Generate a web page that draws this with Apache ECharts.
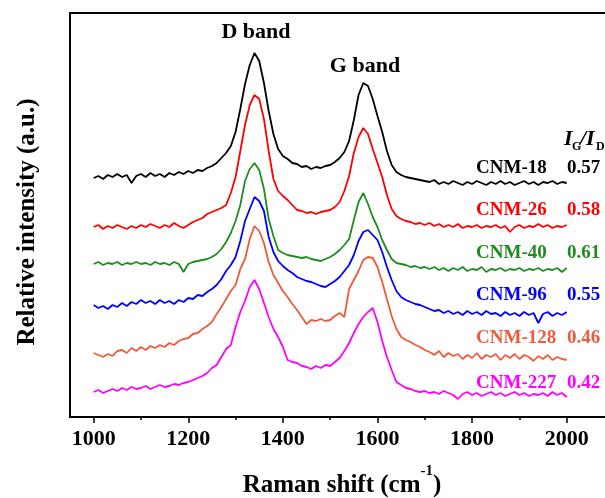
<!DOCTYPE html>
<html>
<head>
<meta charset="utf-8">
<script src="https://cdn.jsdelivr.net/npm/echarts@6/dist/echarts.min.js"></script>
<style>
  html, body { margin: 0; padding: 0; background: #fff; }
  #chart { width: 605px; height: 498px; }
</style>
</head>
<body>
<div id="chart"></div>
<script>
// Raman shift (cm-1), one point every 10 cm-1
var shifts = [1000,1010,1020,1030,1040,1050,1060,1070,1080,1090,
  1100,1110,1120,1130,1140,1150,1160,1170,1180,1190,
  1200,1210,1220,1230,1240,1250,1260,1270,1280,1290,
  1300,1310,1320,1330,1340,1350,1360,1370,1380,1390,
  1400,1410,1420,1430,1440,1450,1460,1470,1480,1490,
  1500,1510,1520,1530,1540,1550,1560,1570,1580,1590,
  1600,1610,1620,1630,1640,1650,1660,1670,1680,1690,
  1700,1710,1720,1730,1740,1750,1760,1770,1780,1790,
  1800,1810,1820,1830,1840,1850,1860,1870,1880,1890,
  1900,1910,1920,1930,1940,1950,1960,1970,1980,1990,2000];

// stacked (offset) intensities
var cnm18 = [239,241,238,242,240,243,240,242,234,241,
  243,240,244,241,243,240,244,242,245,243,
  246,244,247,246,249,251,254,259,264,271,
  285,308,333,352,364,356,334,306,283,268,
  261,258,254,253,250,251,248,250,249,251,
  252,255,259,265,276,297,322,334,331,318,
  301,285,266,252,245,242,240,239,238,237,
  236,235,237,233,235,233,236,234,232,235,
  233,236,234,232,235,233,236,233,235,232,
  234,236,233,235,232,235,234,236,233,235,234];
var cnm26 = [190,192,188,191,189,192,190,188,191,189,
  192,190,193,191,189,192,190,194,191,189,
  192,195,197,199,203,205,207,209,212,224,
  240,266,292,312,322,318,298,266,238,226,
  221,217,212,207,206,204,205,203,205,206,
  207,210,215,226,241,264,280,289,283,268,
  254,240,222,208,201,198,196,195,193,194,
  192,194,191,193,190,192,190,193,189,191,
  190,192,189,191,190,192,189,191,185,190,
  192,189,191,190,193,190,192,189,191,190,192];
var cnm40 = [153,155,152,154,153,155,152,154,153,155,
  153,154,152,155,153,154,152,155,153,145,
  153,155,156,157,158,160,163,168,175,184,
  196,212,236,248,254,247,228,198,181,167,
  164,162,161,160,159,160,158,157,156,158,
  160,163,167,172,178,197,215,224,213,200,
  190,177,167,158,154,153,152,150,151,149,
  150,148,150,147,149,146,149,147,150,146,
  148,147,150,145,148,147,149,146,148,147,
  149,146,148,147,149,146,148,147,149,145,149];
var cnm96 = [112,109,111,108,112,110,114,111,115,113,
  117,114,116,113,117,114,116,113,117,115,
  119,118,122,121,125,128,132,138,146,152,
  160,176,196,208,220,216,206,180,165,156,
  151,147,144,140,138,136,135,133,131,130,
  133,136,140,146,152,162,176,185,187,182,
  177,165,150,137,126,120,117,115,113,112,
  110,108,106,107,104,106,103,105,102,106,
  103,105,102,106,103,104,101,105,102,104,
  101,105,102,104,94,103,105,101,104,102,105];
var cnm128 = [64,62,60,63,61,66,67,64,69,66,
  70,67,71,69,72,70,74,72,76,78,
  79,83,84,88,91,95,103,110,118,126,
  132,148,158,178,191,186,174,155,142,134,
  126,120,113,107,100,93,97,96,98,96,
  97,101,104,100,128,137,146,157,160,159,
  150,135,118,101,88,80,77,75,72,70,
  67,65,62,66,60,64,61,63,58,62,
  59,64,58,62,60,63,57,62,59,63,
  58,62,60,56,61,58,62,57,60,58,57];
var cnm227 = [25,27,24,26,28,26,29,27,30,28,
  29,31,28,30,32,30,31,33,32,34,
  35,37,39,41,44,49,52,60,68,72,
  90,105,116,130,137,128,114,100,88,80,
  70,57,55,54,51,50,48,51,49,52,
  51,55,59,66,74,84,93,100,105,109,
  95,76,60,47,35,32,29,28,26,25,
  26,24,25,23,26,24,22,18,23,25,
  22,24,21,23,25,22,24,21,23,25,
  22,24,21,23,22,24,21,25,22,24,20];

var names = ["CNM-18", "CNM-26", "CNM-40", "CNM-96", "CNM-128", "CNM-227"];
var ratios = ["0.57", "0.58", "0.61", "0.55", "0.46", "0.42"];
var colors = ["#000000", "#ff0000", "#1e8c1e", "#0000ff", "#ef5a3a", "#ff00ff"];
var spectra = [cnm18, cnm26, cnm40, cnm96, cnm128, cnm227];
var majorTicks = [1000, 1200, 1400, 1600, 1800, 2000];
var minorTicks = [1100, 1300, 1500, 1700, 1900];

var serif = '"Liberation Serif", "DejaVu Serif", serif';
var myChart = echarts.init(document.getElementById("chart"));

// 标签位置 (label rows, y centers in px)
var rowY = [168, 210, 253, 295, 338, 383];
var graphics = [
  { type: "text", x: 256, y: 32, style: { text: "D band", font: "bold 22px " + serif, fill: "#000", textAlign: "center", textVerticalAlign: "middle" } },
  { type: "text", x: 365, y: 66, style: { text: "G band", font: "bold 22px " + serif, fill: "#000", textAlign: "center", textVerticalAlign: "middle" } },
  { type: "text", x: 564, y: 139, style: { text: "I", font: "italic bold 22px " + serif, fill: "#000", textVerticalAlign: "middle" } },
  { type: "text", x: 572, y: 147, style: { text: "G", font: "bold 12px " + serif, fill: "#000", textVerticalAlign: "middle" } },
  { type: "text", x: 580, y: 139, style: { text: "/I", font: "italic bold 22px " + serif, fill: "#000", textVerticalAlign: "middle" } },
  { type: "text", x: 596, y: 147, style: { text: "D", font: "bold 12px " + serif, fill: "#000", textVerticalAlign: "middle" } }
];
names.forEach(function (n, i) {
  graphics.push({ type: "text", x: 476, y: rowY[i], style: { text: n, font: "bold 19px " + serif, fill: colors[i], textVerticalAlign: "middle" } });
  graphics.push({ type: "text", x: 567, y: rowY[i], style: { text: ratios[i], font: "bold 19px " + serif, fill: colors[i], textVerticalAlign: "middle" } });
});

myChart.setOption({
  animation: false,
  grid: {
    left: 70, top: 13, width: 544, height: 404,
    outerBoundsMode: "none", containLabel: false,
    show: true, borderColor: "#000", borderWidth: 2, backgroundColor: "transparent"
  },
  xAxis: [
    {
      type: "value", min: 950, max: 2100,
      name: "{t|Raman shift (cm}{sup|-1}{t|)}",
      nameLocation: "middle", nameGap: 47,
      nameTextStyle: {
        rich: {
          t: { fontFamily: serif, fontWeight: "bold", fontSize: 25, color: "#000", lineHeight: 34, verticalAlign: "bottom" },
          sup: { fontFamily: serif, fontWeight: "bold", fontSize: 15, color: "#000", lineHeight: 15, verticalAlign: "top" }
        }
      },
      axisLine: { show: false },
      splitLine: { show: false },
      axisTick: { show: true, inside: false, length: 6, customValues: majorTicks, lineStyle: { color: "#000", width: 1.5 } },
      axisLabel: {
        customValues: majorTicks, margin: 11, fontFamily: serif, fontWeight: "bold", fontSize: 22, color: "#000",
        formatter: function (v) { return String(v); }
      }
    },
    {
      type: "value", min: 950, max: 2100, position: "bottom", gridIndex: 0,
      axisLine: { show: false },
      splitLine: { show: false },
      axisTick: { show: true, inside: false, length: 3, customValues: minorTicks, lineStyle: { color: "#000", width: 1.5 } },
      axisLabel: { show: false }
    }
  ],
  yAxis: {
    type: "value", min: 0, max: 404,
    name: "Relative intensity (a.u.)",
    nameLocation: "middle", nameGap: 30,
    nameTextStyle: { fontFamily: serif, fontWeight: "bold", fontSize: 25, color: "#000", padding: [0, 14, 0, 0] },
    axisLine: { show: false },
    axisTick: { show: false },
    axisLabel: { show: false },
    splitLine: { show: false }
  },
  series: spectra.map(function (arr, i) {
    return {
      name: names[i],
      type: "line",
      xAxisIndex: 0,
      showSymbol: false,
      data: shifts.map(function (x, k) { return [x, arr[k]]; }),
      lineStyle: { color: colors[i], width: 1.8 },
      itemStyle: { color: colors[i] }
    };
  }),
  graphic: graphics
});
</script>
</body>
</html>
